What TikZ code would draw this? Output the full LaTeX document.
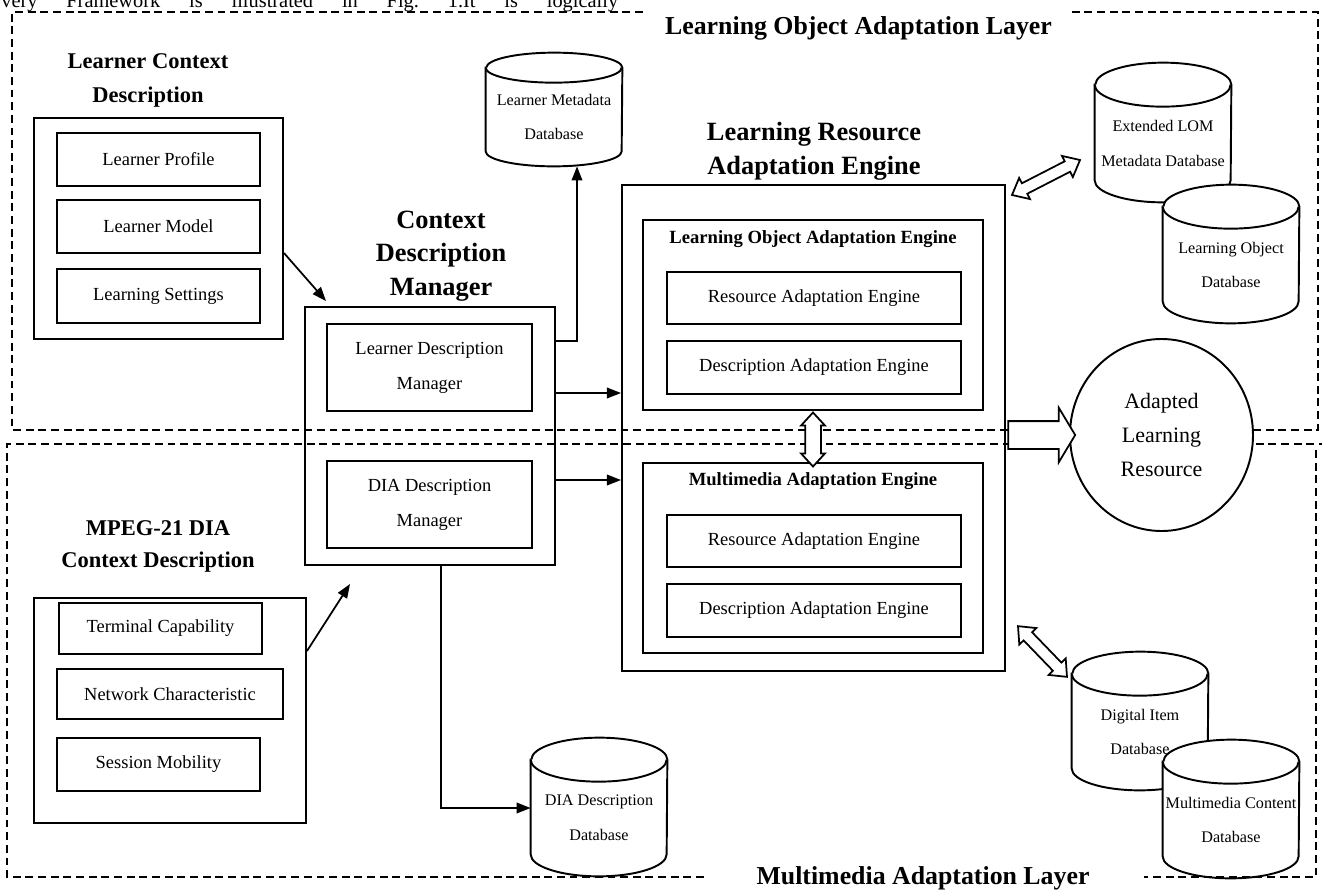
\documentclass[tikz,border=0pt]{standalone}
\usepackage{fontspec}
\setmainfont{Liberation Serif}
\usetikzlibrary{arrows.meta,calc,shapes.geometric,shapes.arrows}
\pgfdeclarelayer{background}
\pgfsetlayers{background,main}
\definecolor{cEdge}{RGB}{0,0,0}
\definecolor{cPaper}{RGB}{255,255,255}

% database drum round a node: #1 node (top cap centre to bottom), #2 cap radius
\newcommand{\dbcyl}[2]{%
  \filldraw[dbline] (#1.north west) -- ([yshift=#2]#1.south west)
      arc[start angle=180,end angle=360,x radius=13.6mm,y radius=#2]
      -- (#1.north east)
      arc[start angle=0,end angle=180,x radius=13.6mm,y radius=#2] -- cycle;
  \draw[dbline] (#1.north west)
      arc[start angle=180,end angle=360,x radius=13.6mm,y radius=#2];}

\begin{document}
\begin{tikzpicture}[
  x=0.2mm, y=-0.2mm, color=cEdge,
  sz/.style 2 args={minimum width=#1*0.2mm, minimum height=#2*0.2mm},
  layer/.style  ={draw=cEdge, line width=0.9pt, dash pattern=on 4.5pt off 2.7pt},
  outbox/.style ={draw=cEdge, line width=1.1pt, inner sep=0pt},
  inbox/.style  ={draw=cEdge, line width=1.1pt, fill=cPaper, inner sep=0pt, align=center,
                  font=\fontsize{10.5}{19.8}\selectfont},
  db/.style     ={inner sep=0pt, align=center, minimum width=27.2mm,
                  font=\fontsize{9.2}{19.8}\selectfont},
  dbline/.style ={draw=cEdge, fill=cPaper, line width=1.1pt},
  link/.style   ={-{Triangle[length=8pt,width=6pt]}, line width=1pt},
  hollow/.style ={draw=cEdge, fill=cPaper, line width=1pt, inner xsep=0pt},
  ttl/.style    ={font=\bfseries\fontsize{12.8}{19.8}\selectfont, align=center},
  bigttl/.style ={font=\bfseries\fontsize{15}{19.2}\selectfont, align=center},
  subttl/.style ={font=\bfseries\fontsize{10.6}{12}\selectfont},
  layerttl/.style={font=\bfseries\fontsize{14.7}{16}\selectfont},
]
\useasboundingbox (0,0) rectangle (1322,890);

% ----- cut-off running text ------------------------------------------
\node[anchor=base west, inner sep=0pt, font=\fontsize{11.6}{14}\selectfont] (intro) at (1,7)
     {\frenchspacing\makebox[351pt][s]{very Framework is illustrated in Fig. 1.It is logically}};

% ----- the two layers ---------------------------------------------------
\draw[layer] (643,12) -- (12,12) -- (12,430) -- (1318,430) -- (1318,12) -- (1072,12);
\draw[layer] (704,877) -- (7,877) -- (7,444) -- (1322,444);
\draw[layer] (1316,450) -- (1316,877) -- (1144,877);
\node[layerttl] (loalayer) at (858.5,28) {Learning Object Adaptation Layer};
\node[layerttl] (malayer)  at (923,878)  {Multimedia Adaptation Layer};

% ----- learner context --------------------------------------------------
\node[ttl] (lcdttl) at (148,80.5) {Learner Context\\Description};
\node[outbox,sz={249}{221}] (lcd)      at (158.5,228.5) {};
\node[inbox,sz={203}{53}]   (profile)  at (158.5,159.5) {Learner Profile};
\node[inbox,sz={203}{53}]   (model)    at (158.5,226.5) {Learner Model};
\node[inbox,sz={203}{54}]   (settings) at (158.5,296)   {Learning Settings};

% ----- MPEG-21 DIA context ----------------------------------------------
\node[ttl,font=\bfseries\fontsize{12.8}{18.7}\selectfont] (diattl) at (158,546.5)
     {MPEG-21 DIA\\Context Description};
\node[outbox,sz={272}{225}] (dia)      at (170,710.5)   {};
\node[inbox,sz={203}{51}]   (terminal) at (160.5,628.5) {Terminal Capability};
\node[inbox,sz={226}{50}]   (network)  at (170,694)     {Network Characteristic};
\node[inbox,sz={203}{53}]   (session)  at (158.5,764.5) {Session Mobility};

% ----- context description manager --------------------------------------
\node[bigttl,font=\bfseries\fontsize{15}{19}\selectfont] (cdmttl) at (441,256)
     {Context\\Description\\Manager};
\node[outbox,sz={250}{258}] (cdm) at (430,436)   {};
\node[inbox,sz={205}{87}]   (ldm) at (429.5,367.5) {Learner Description\\Manager};
\node[inbox,sz={205}{87}]   (ddm) at (429.5,504.5) {DIA Description\\Manager};

% ----- learning resource adaptation engine -----------------------------
\node[bigttl] (lraettl) at (814,151) {Learning Resource\\Adaptation Engine};
\node[outbox,sz={383}{486}] (lrae) at (813.5,428) {};
\node[outbox,sz={340}{190}] (loae) at (813,315)   {};
\node[subttl] (loaettl) at (813,239) {Learning Object Adaptation Engine};
\node[inbox,sz={294}{52}] (rae1) at (814,298)   {Resource Adaptation Engine};
\node[inbox,sz={294}{53}] (dae1) at (814,367.5) {Description Adaptation Engine};
\node[outbox,sz={340}{190}] (mae) at (813,558)  {};
\node[subttl] (maettl) at (813,481) {Multimedia Adaptation Engine};
\node[inbox,sz={294}{52}] (rae2) at (814,541)   {Resource Adaptation Engine};
\node[inbox,sz={294}{53}] (dae2) at (814,610.5) {Description Adaptation Engine};

% ----- databases (node = cap centre down to the bottom) -----------------
\node[db,minimum height=98*0.2mm]  (lmdb)  at (554,117)    {Learner Metadata\\Database};
\node[db,minimum height=117*0.2mm] (lomdb) at (1163,143.5) {Extended LOM\\Metadata Database};
\node[db,minimum height=116*0.2mm] (lodb)  at (1231,265)   {Learning Object\\Database};
\node[db,minimum height=116*0.2mm] (diadb) at (599,818)    {DIA Description\\Database};
\node[db,minimum height=116*0.2mm] (didb)  at (1140,732)   {Digital Item\\Database};
\node[db,minimum height=116*0.2mm] (mcdb)  at (1231,820)   {Multimedia Content\\Database};
\begin{pgfonlayer}{background}
  \dbcyl{lmdb}{3mm}
  \dbcyl{lomdb}{4.4mm}
  \dbcyl{lodb}{4.4mm}
  \dbcyl{diadb}{4.4mm}
  \dbcyl{didb}{4.4mm}
  \dbcyl{mcdb}{4.4mm}
\end{pgfonlayer}

% ----- adapted resource --------------------------------------------------
\node[ellipse,draw=cEdge,fill=cPaper,line width=1.1pt,sz={183}{192},inner sep=0pt,
      align=center,font=\fontsize{12.5}{19.6}\selectfont] (alr) at (1161.5,435)
     {Adapted\\Learning\\Resource};

% ----- connectors --------------------------------------------------------
\draw[link] ([yshift=-4.9mm]lcd.east) -- ([xshift=4.4mm,yshift=1mm]cdm.north west);
\draw[link] ([yshift=-10.8mm]dia.north east) -- ([xshift=9.2mm,yshift=-3.6mm]cdm.south west);
\draw[link] ([yshift=19mm]cdm.east) -| ([xshift=4.6mm]lmdb.south);
\coordinate (ldmout) at ([yshift=8.6mm]cdm.east);
\coordinate (ddmout) at ([yshift=-8.8mm]cdm.east);
\draw[link] (ldmout) -- (ldmout -| lrae.west);
\draw[link] (ddmout) -- (ddmout -| lrae.west);
\draw[link] ([xshift=2.2mm]cdm.south) |- ([yshift=2mm]diadb.west);

% hollow arrows
\node[hollow,double arrow,rotate=90,minimum height=10.8mm,inner ysep=1.4mm,
      double arrow head extend=0.8mm,double arrow tip angle=85,xshift=-0.6mm] (engines)
     at ($(loae.south)!0.5!(mae.north)$) {};
\node[hollow,double arrow,rotate=27.2,minimum height=15.3mm,inner ysep=1mm,
      double arrow head extend=1.2mm,double arrow tip angle=80] (lomlink) at (1046,177.5) {};
\node[hollow,double arrow,rotate=-46,minimum height=14.1mm,inner ysep=1mm,
      double arrow head extend=1.2mm,double arrow tip angle=80] (dilink) at (1042.5,651.5) {};
\node[hollow,single arrow,minimum height=13.4mm,inner ysep=2.6mm,
      single arrow head extend=2.7mm,single arrow tip angle=118] (output)
     at ($(lrae.east |- alr.west)!0.5!(alr.west)$) {};

\end{tikzpicture}
\end{document}
